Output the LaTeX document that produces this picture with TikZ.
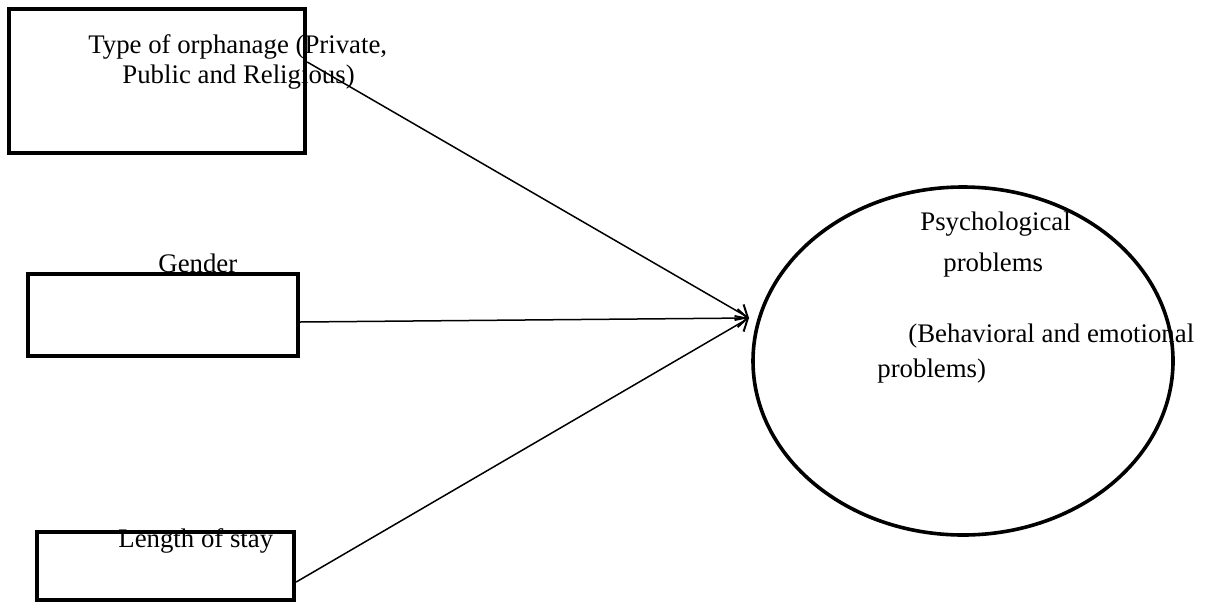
\documentclass[tikz,border=0pt]{standalone}
\usepackage{fontspec}
\setmainfont{Liberation Serif}
\usetikzlibrary{shapes.geometric,arrows.meta}
\begin{document}
\begin{tikzpicture}[x=0.5pt,y=-0.5pt,
  box/.style={draw,line width=2.2pt,rectangle,inner sep=0pt},
  oval/.style={draw,line width=1.8pt,ellipse,inner sep=0pt},
  txt/.style={anchor=base west,inner sep=0pt,font=\fontsize{13.4}{16}\selectfont},
  link/.style={line width=0.75pt,-{Straight Barb[length=5pt,width=9pt,line width=1pt]}}]
\useasboundingbox (0,0) rectangle (1214,605);
% boxes
\node[box,minimum width=148pt,minimum height=72pt] (b1) at (157,81) {};
\node[box,minimum width=135pt,minimum height=41pt] (b2) at (163,315) {};
\node[box,minimum width=128.5pt,minimum height=34pt] (b3) at (165.5,566) {};
\node[oval,minimum width=210pt,minimum height=174pt] (e) at (963,361) {};
% texts
\node[txt] (t1a) at (88,53) {Type of orphanage (Private,};
\node[txt] (t1b) at (122,83) {Public and Religious)};
\node[txt] (t2) at (158,272) {Gender};
\node[txt] (t3) at (118,547) {Length of stay};
\node[txt] (t4a) at (920,230) {Psychological};
\node[txt] (t4b) at (943,271) {problems};
\node[txt] (t4c) at (908,342) {(Behavioral and emotional};
\node[txt] (t4d) at (877,377) {problems)};
% connectors
\coordinate (tip) at (749,318);
\draw[link] ([yshift=9.5pt]b1.east) -- (tip);
\draw[link] ([yshift=-3.5pt]b2.east) -- (tip);
\draw[link] ([yshift=-8pt]b3.east) -- (tip);
\end{tikzpicture}
\end{document}
